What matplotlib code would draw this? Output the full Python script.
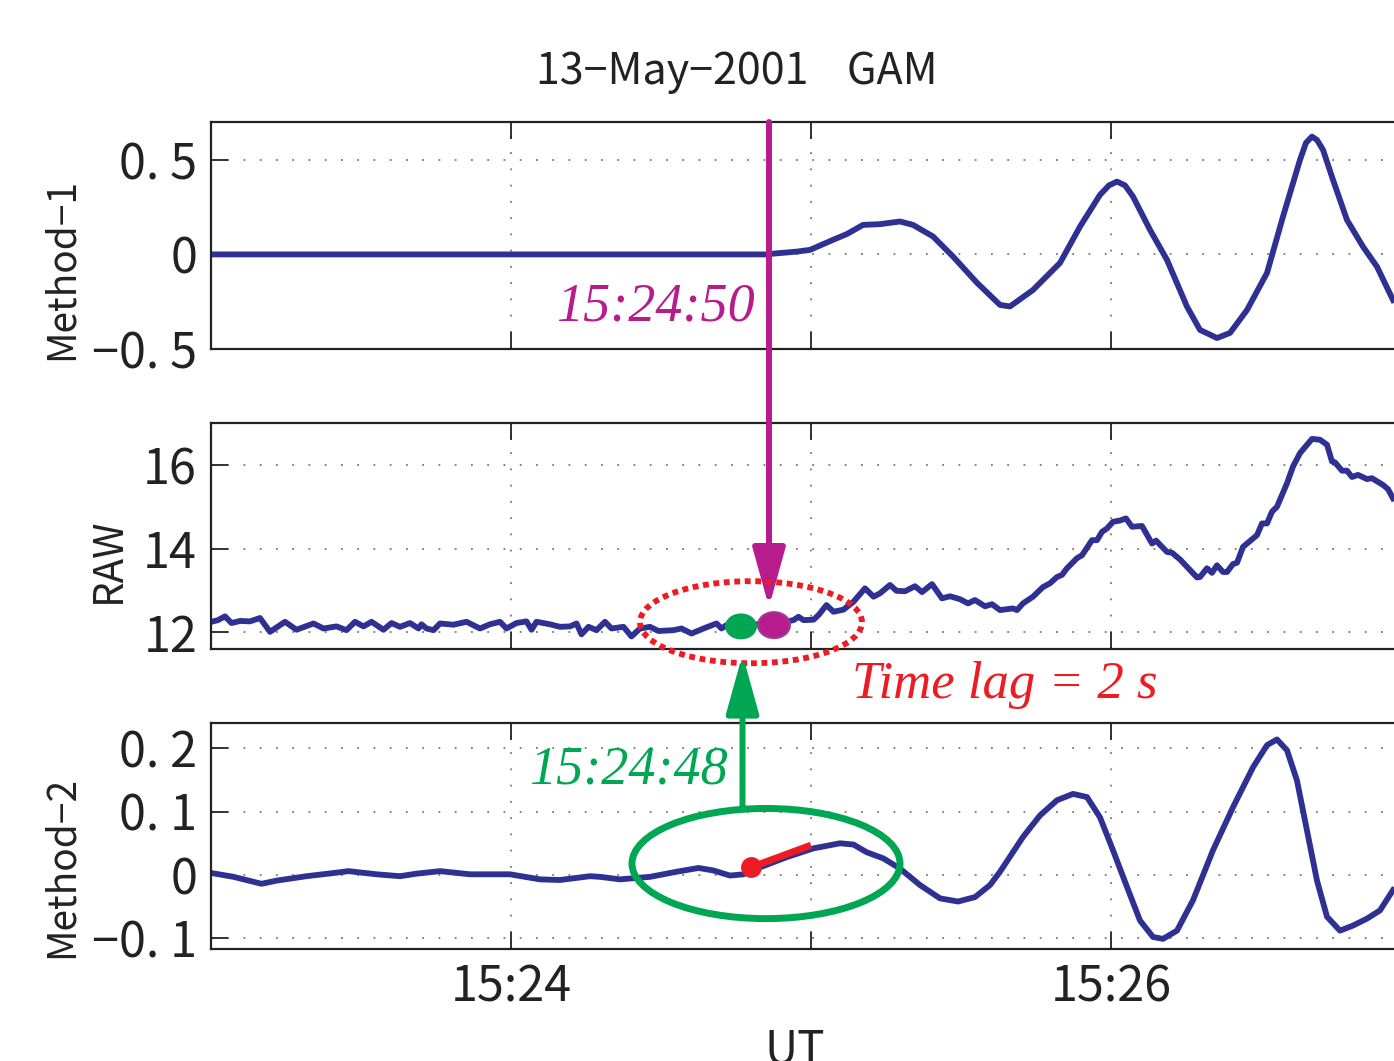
import matplotlib
matplotlib.use('Agg')
import matplotlib.pyplot as plt
from matplotlib.patches import Ellipse

# time axis: seconds after 15:23:00 UT
xticks = [60, 120, 180]
xticklabels = ['15:24', '', '15:26']

# Method-1
m1_t = [0, 111.6, 112.4, 117.2, 119.8, 124.4, 127.2, 130.4, 133.8, 137.8, 140.4,
        144.4, 148.4, 153.2, 157.8, 159.8, 164.4, 169.8, 173.8, 177.8, 179.6, 181.2,
        182.8, 184.4, 187.8, 191.2, 195.2, 197.8, 201.2, 203.8, 207.2, 211.2, 214.4,
        217.8, 219.0, 220.2, 221.2, 222.4, 224.4, 227.2, 230.4, 233.2, 236.4]
m1_v = [0, 0, 0.004, 0.015, 0.024, 0.077, 0.108, 0.156, 0.160, 0.174, 0.156,
        0.095, -0.011, -0.150, -0.267, -0.275, -0.188, -0.045, 0.147, 0.315, 0.365, 0.385,
        0.365, 0.306, 0.130, -0.029, -0.276, -0.399, -0.442, -0.415, -0.294, -0.098, 0.200,
        0.500, 0.590, 0.623, 0.605, 0.553, 0.394, 0.182, 0.041, -0.065, -0.241]

# RAW
raw_t = [0.1, 1.4, 2.8, 4.1, 5.8, 7.8, 9.8, 11.8, 14.8, 17.1, 20.5, 22.5, 25.1, 27.1,
         28.8, 30.5, 32.1, 34.5, 36.1, 37.8, 39.8, 41.5, 42.1, 43.1, 44.5, 45.8, 48.5,
         51.1, 53.8, 55.8, 57.8, 59.1, 61.1, 63.1, 64.1, 65.1, 67.8, 69.8, 71.8, 73.1,
         74.1, 75.5, 77.1, 78.8, 80.1, 82.5, 84.1, 85.8, 87.8, 89.5, 92.5, 94.1, 96.1,
         98.5, 101.1, 102.1, 103.1, 105.0, 107.4, 109.8, 113.8, 116.5, 117.5, 118.5,
         120.5, 121.5, 123.1, 124.5, 126.5, 128.5, 130.8, 132.5, 133.8, 135.8, 137.1,
         138.8, 140.8, 142.2, 144.2, 146.2, 147.8, 149.8, 151.4, 152.8, 154.8, 156.2,
         157.8, 160.4, 161.2, 162.4, 164.4, 166.4, 167.8, 169.2, 170.2, 171.2, 173.2,
         174.2, 176.2, 177.2, 178.2, 179.2, 180.4, 181.8, 183.0, 184.2, 186.2, 188.2,
         189.0, 191.2, 192.2, 193.8, 197.2, 197.8, 199.2, 200.2, 201.2, 202.4, 203.2,
         204.4, 205.2, 206.4, 208.4, 209.2, 210.2, 211.2, 212.2, 213.2, 215.2, 216.4,
         217.8, 220.2, 221.8, 223.2, 224.2, 224.8, 226.2, 227.2, 228.2, 229.4, 231.2,
         232.2, 234.4, 235.4, 236.4]
raw_v = [12.25, 12.29, 12.38, 12.22, 12.27, 12.26, 12.34, 12.01, 12.25, 12.06, 12.21,
         12.09, 12.14, 12.05, 12.25, 12.14, 12.25, 12.06, 12.22, 12.13, 12.22, 12.09,
         12.19, 12.09, 12.05, 12.21, 12.18, 12.25, 12.09, 12.19, 12.25, 12.09, 12.22,
         12.26, 12.06, 12.25, 12.19, 12.13, 12.14, 12.21, 11.95, 12.13, 12.05, 12.25,
         12.09, 12.13, 11.90, 12.09, 12.13, 12.03, 12.05, 12.09, 11.97, 12.09, 12.21,
         12.09, 12.17, 12.13, 12.15, 12.20, 12.22, 12.29, 12.37, 12.29, 12.30, 12.41,
         12.65, 12.49, 12.54, 12.73, 13.05, 12.85, 12.93, 13.13, 12.99, 12.98, 13.10,
         12.96, 13.15, 12.81, 12.86, 12.79, 12.69, 12.77, 12.62, 12.67, 12.53, 12.57,
         12.53, 12.69, 12.85, 13.08, 13.17, 13.32, 13.37, 13.53, 13.77, 13.84, 14.20,
         14.20, 14.40, 14.48, 14.64, 14.67, 14.72, 14.52, 14.54, 14.12, 14.19, 13.92,
         13.90, 13.74, 13.31, 13.32, 13.53, 13.42, 13.60, 13.44, 13.44, 13.63, 13.66,
         14.04, 14.24, 14.32, 14.60, 14.60, 14.88, 15.00, 15.56, 15.96, 16.28, 16.62,
         16.60, 16.48, 16.08, 16.06, 15.86, 15.86, 15.71, 15.76, 15.66, 15.68, 15.52,
         15.42, 15.20]

# Method-2
m2_t = [0.1, 4.5, 10.1, 13.1, 19.1, 24.5, 27.5, 33.1, 37.8, 41.1, 45.8, 51.8, 59.8,
        65.8, 69.8, 75.8, 77.8, 81.8, 87.8, 93.1, 97.5, 100.5, 103.8, 106.5, 109.8,
        115.1, 120.5, 125.8, 128.5, 131.1, 134.5, 137.8, 141.8, 145.8, 149.4, 152.8,
        155.8, 157.8, 162.4, 165.8, 169.2, 172.4, 175.2, 177.8, 180.4, 183.2, 185.8,
        188.4, 190.4, 193.2, 196.4, 200.4, 204.4, 208.4, 211.2, 213.2, 215.2, 217.2,
        219.2, 221.2, 223.2, 225.8, 228.4, 231.2, 233.8, 236.4]
m2_v = [0.003, -0.003, -0.014, -0.009, -0.002, 0.003, 0.006, 0.001, -0.002, 0.002,
        0.006, 0.001, 0.001, -0.007, -0.008, -0.002, -0.003, -0.007, -0.003, 0.005,
        0.011, 0.007, -0.001, 0.001, 0.012, 0.028, 0.042, 0.050, 0.048, 0.036, 0.026,
        0.010, -0.016, -0.037, -0.042, -0.035, -0.016, 0.005, 0.060, 0.094, 0.118,
        0.128, 0.123, 0.091, 0.039, -0.019, -0.072, -0.098, -0.101, -0.088, -0.040,
        0.039, 0.107, 0.170, 0.205, 0.214, 0.197, 0.149, 0.070, -0.009, -0.066,
        -0.088, -0.080, -0.069, -0.056, -0.024]

NAVY = '#2E3192'
MAGENTA = '#B61C8C'
GREEN = '#00A651'
RED = '#ED1C24'
INK = '#222222'

plt.rcParams['font.family'] = ['Noto Sans CJK JP', 'DejaVu Sans']

W, H = 1394, 1061
fig = plt.figure(figsize=(W / 100, H / 100), dpi=100)


def fx(px):
    return px / W


def fy(py):
    return 1 - py / H


def make_axes(top, bottom):
    ax = fig.add_axes([fx(211), fy(bottom), fx(1397) - fx(211), fy(top) - fy(bottom)])
    ax.set_facecolor('none')
    ax.set_xlim(0, 237.2)
    ax.set_xticks(xticks)
    ax.tick_params(direction='in', length=12, width=1.3, top=True, right=False,
                   labelsize=35, pad=10, colors=INK)
    ax.grid(True, linestyle=(0, (1, 8)), color='#777777', lw=1.3)
    ax.spines['right'].set_visible(False)
    for s in ['top', 'left', 'bottom']:
        ax.spines[s].set_linewidth(1.6)
        ax.spines[s].set_color(INK)
    return ax


ax1 = make_axes(122, 349)
ax2 = make_axes(423, 649)
ax3 = make_axes(723, 949)

ax1.plot(m1_t, m1_v, color=NAVY, lw=4.2)
ax1.set_ylim(-0.5, 0.7)
ax1.set_yticks([-0.5, 0, 0.5])
ax1.set_yticklabels(['\u22120. 5', '0', '0. 5'])
ax1.set_xticklabels([])

ax2.plot(raw_t, raw_v, color=NAVY, lw=4.2)
ax2.set_ylim(11.6, 17.0)
ax2.set_yticks([12, 14, 16])
ax2.set_yticklabels(['12', '14', '16'])
ax2.set_xticklabels([])

ax3.plot(m2_t, m2_v, color=NAVY, lw=4.2)
ax3.set_ylim(-0.117, 0.24)
ax3.set_yticks([-0.1, 0, 0.1, 0.2])
ax3.set_yticklabels(['\u22120. 1', '0', '0. 1', '0. 2'])
ax3.set_xticklabels(xticklabels)

# labels
fig.text(fx(737), fy(72), '13\u2212May\u22122001    GAM', fontsize=31,
         ha='center', va='center', color=INK)
fig.text(fx(62), fy(269), 'Method\u22121', fontsize=28, rotation=90,
         ha='center', va='center', color=INK)
fig.text(fx(108), fy(560), 'RAW', fontsize=29, rotation=90,
         ha='center', va='center', color=INK)
fig.text(fx(62), fy(867), 'Method\u22122', fontsize=28, rotation=90,
         ha='center', va='center', color=INK)
fig.text(fx(795), fy(1050), 'UT', fontsize=33, ha='center', va='center', color=INK)

arrow_style = '-|>,head_length=3.6,head_width=1.0'

# magenta arrow: Method-1 onset
ax2.annotate('', xy=(111.6, 12.6), xycoords='data',
             xytext=(111.6, 0.7), textcoords=ax1.transData,
             arrowprops=dict(arrowstyle=arrow_style, mutation_scale=10, color=MAGENTA,
                             lw=4.3, shrinkA=0, shrinkB=0),
             annotation_clip=False)
# green arrow: Method-2 onset
ax3.annotate('', xy=(106.3, 11.47), xycoords=ax2.transData,
             xytext=(106.3, 0.105), textcoords='data',
             arrowprops=dict(arrowstyle=arrow_style, mutation_scale=10, color=GREEN,
                             lw=4.3, shrinkA=0, shrinkB=0),
             annotation_clip=False)

# onset dots on RAW
ax2.add_patch(Ellipse((106.0, 12.14), 6.4, 0.62, facecolor=GREEN, edgecolor='none',
                      zorder=5, clip_on=False))
ax2.add_patch(Ellipse((112.6, 12.17), 6.4, 0.62, facecolor=MAGENTA, edgecolor='#9B3C9B',
                      lw=1.5, zorder=5, clip_on=False))
ax2.add_patch(Ellipse((108.0, 12.24), 44.4, 1.96, facecolor='none', edgecolor=RED,
                      lw=4.2, linestyle=(0, (1.0, 0.8)), zorder=6, clip_on=False))

# Method-2 highlight
ax3.add_patch(Ellipse((111.0, 0.018), 53.6, 0.174, facecolor='none', edgecolor=GREEN,
                      lw=5, zorder=6, clip_on=False))
ax3.plot([108.0, 120.0], [0.012, 0.047], color=RED, lw=5, solid_capstyle='butt', zorder=7)
ax3.plot([108.0], [0.012], 'o', color=RED, ms=14, zorder=8)

# annotation texts
fig.text(fx(755), fy(307), '15:24:50', fontsize=39, color=MAGENTA, style='italic',
         family='Liberation Serif', ha='right', va='center')
fig.text(fx(728), fy(770), '15:24:48', fontsize=39, color=GREEN, style='italic',
         family='Liberation Serif', ha='right', va='center')
fig.text(fx(852), fy(685), 'Time lag = 2 s', fontsize=38, color=RED, style='italic',
         family='Liberation Serif', ha='left', va='center')

fig.savefig('out.png', dpi=100)
